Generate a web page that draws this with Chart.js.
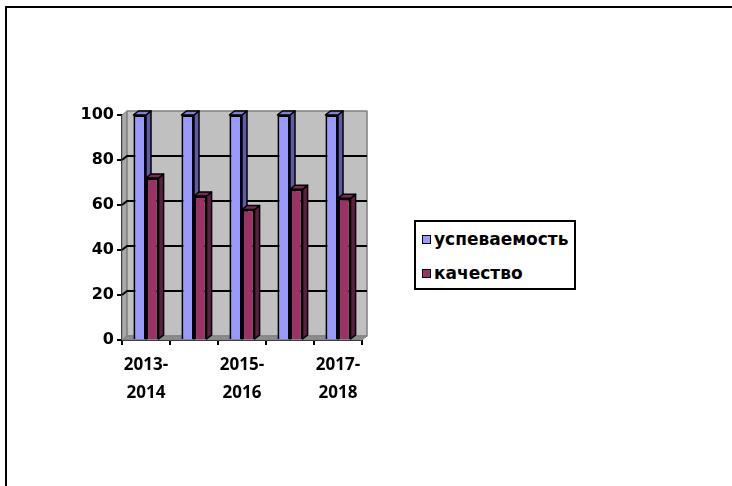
<!DOCTYPE html>
<html><head><meta charset="utf-8">
<script src="https://cdn.jsdelivr.net/npm/chart.js@4/dist/chart.umd.min.js"></script>
<style>
html,body{margin:0;padding:0;background:#fff;}
#wrap{position:relative;width:732px;height:486px;overflow:hidden;background:#fff;}
#frame{position:absolute;left:5px;top:6px;width:760px;height:520px;border:2px solid #000;box-sizing:border-box;}
#c{position:absolute;left:0;top:0;}
#legend{position:absolute;left:414px;top:220px;width:162px;height:70px;border:2px solid #000;box-sizing:border-box;background:#fff;font:bold 17px "DejaVu Sans";color:#000;}
#legend .item{position:absolute;left:6px;height:20px;line-height:20px;white-space:nowrap;}
#legend .sw{display:inline-block;width:7px;height:7px;border:1.5px solid #000;margin-right:3px;vertical-align:middle;position:relative;top:-1px;}
</style></head>
<body>
<div id="wrap">
<div id="frame"></div>
<canvas id="c" width="732" height="486"></canvas>
<div id="legend"></div>
</div>
<script>
const categories = ['2013-2014', '2014-2015', '2015-2016', '2016-2017', '2017-2018'];
const seriesNames = ['успеваемость', 'качество'];
const uspevaemost = [100, 100, 100, 100, 100];
const kachestvo = [72, 64, 58, 67, 63];
const yTicks = [0, 20, 40, 60, 80, 100];

const frontColors = ['#9999ff', '#993366'];
const sideColors = ['#5d5da6', '#5e1f3f'];
const topColors = ['#8080d6', '#7a2952'];
const DX = 5, DY = -4;

function poly(ctx, pts, fill, stroke, lw) {
  ctx.beginPath();
  ctx.moveTo(pts[0][0], pts[0][1]);
  for (let i = 1; i < pts.length; i++) ctx.lineTo(pts[i][0], pts[i][1]);
  ctx.closePath();
  if (fill) { ctx.fillStyle = fill; ctx.fill(); }
  if (stroke) { ctx.strokeStyle = stroke; ctx.lineWidth = lw || 1; ctx.lineJoin = 'round'; ctx.stroke(); }
}

const threeD = {
  id: 'threeD',
  beforeDatasetsDraw(chart) {
    const { ctx, chartArea: a, scales: { y } } = chart;
    ctx.save();
    poly(ctx, [[a.left, a.top], [a.left + DX, a.top + DY], [a.left + DX, a.bottom + DY], [a.left, a.bottom]], '#a9a9a9', '#808080', 1);
    poly(ctx, [[a.left + DX, a.top + DY], [a.right + DX, a.top + DY], [a.right + DX, a.bottom + DY], [a.left + DX, a.bottom + DY]], '#c0c0c0', '#808080', 1.5);
    poly(ctx, [[a.left, a.bottom], [a.left + DX, a.bottom + DY], [a.right + DX, a.bottom + DY], [a.right, a.bottom]], '#8c8c8c', '#808080', 1);
    yTicks.forEach(v => {
      if (v === 0 || v === 100) return;
      const py = y.getPixelForValue(v);
      ctx.beginPath();
      ctx.moveTo(a.left, py);
      ctx.lineTo(a.left + DX, py + DY);
      ctx.lineTo(a.right + DX, py + DY);
      ctx.strokeStyle = '#000'; ctx.lineWidth = 2; ctx.stroke();
    });
    chart.data.datasets.forEach((ds, i) => {
      const meta = chart.getDatasetMeta(i);
      meta.data.forEach(bar => {
        const p = bar.getProps(['x', 'y', 'base', 'width'], true);
        const l = p.x - p.width / 2, r = p.x + p.width / 2;
        poly(ctx, [[r, p.y], [r + DX, p.y + DY], [r + DX, p.base + DY], [r, p.base]], sideColors[i], '#000', 1.5);
        poly(ctx, [[l, p.y], [l + DX, p.y + DY], [r + DX, p.y + DY], [r, p.y]], topColors[i], '#000', 1.5);
      });
    });
    ctx.restore();
  }
};

new Chart(document.getElementById('c'), {
  type: 'bar',
  data: {
    labels: categories,
    datasets: [
      { label: seriesNames[0], data: uspevaemost, backgroundColor: frontColors[0], borderColor: '#000', borderWidth: 2 },
      { label: seriesNames[1], data: kachestvo, backgroundColor: frontColors[1], borderColor: '#000', borderWidth: 2 }
    ]
  },
  options: {
    responsive: false,
    animation: false,
    devicePixelRatio: 1,
    categoryPercentage: 0.525,
    barPercentage: 1,
    layout: { padding: { left: 0, top: 115, right: 370, bottom: 0 } },
    plugins: { legend: { display: false }, tooltip: { enabled: false } },
    scales: {
      x: {
        offset: true,
        grid: { display: true, drawOnChartArea: false, offset: true, tickLength: 5, color: '#000', lineWidth: 2 },
        border: { display: true, color: '#000', width: 2 },
        ticks: {
          autoSkip: false, maxRotation: 0, color: '#000', padding: 6,
          font: { family: 'Open Sans', weight: 'bold', size: 17, lineHeight: 1.65 },
          callback: (v, i) => i % 2 === 0 ? [categories[i].slice(0, 5), categories[i].slice(5)] : ''
        },
        afterFit: s => { s.height = 146; }
      },
      y: {
        min: 0, max: 100,
        grid: { display: true, drawOnChartArea: false, tickLength: 5, color: '#000', lineWidth: 2 },
        border: { display: true, color: '#000', width: 2 },
        ticks: {
          stepSize: 20, color: '#000', padding: 3,
          font: { family: 'DejaVu Sans', weight: 'bold', size: 16 }
        },
        afterFit: s => { s.width = 122; }
      }
    }
  },
  plugins: [threeD]
});

const lg = document.getElementById('legend');
seriesNames.forEach((n, i) => {
  const d = document.createElement('div');
  d.className = 'item';
  d.style.top = (i === 0 ? 7 : 41) + 'px';
  const sw = document.createElement('span');
  sw.className = 'sw';
  sw.style.background = frontColors[i];
  d.appendChild(sw);
  d.appendChild(document.createTextNode(n));
  lg.appendChild(d);
});
</script>
</body></html>
